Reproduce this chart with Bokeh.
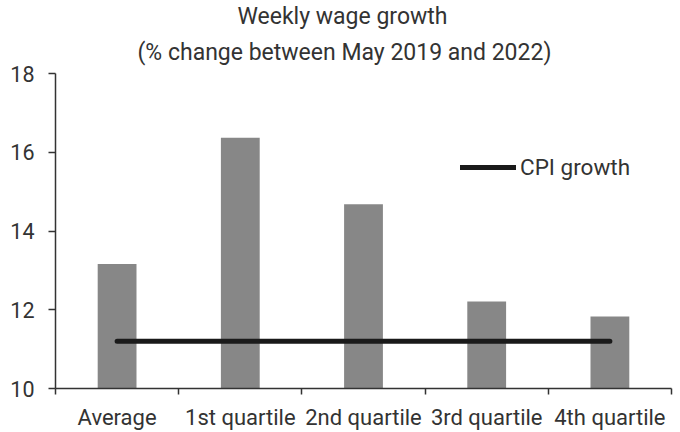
from bokeh.plotting import figure
from bokeh.models import FixedTicker, Title, Legend, LegendItem, ColumnDataSource, Range1d
from bokeh.embed import file_html
from bokeh.resources import INLINE

categories = ["Average", "1st quartile", "2nd quartile", "3rd quartile", "4th quartile"]
wage_growth = [13.16, 16.37, 14.68, 12.21, 11.83]
cpi_growth = [11.2, 11.2, 11.2, 11.2, 11.2]
y_ticks = [10, 12, 14, 16, 18]
title_line1 = "Weekly wage growth"
title_line2 = "(% change between May 2019 and 2022)"
cpi_label = "CPI growth"

FONT = "Roboto"
TEXT = "#333333"

x_pos = [i + 0.5 for i in range(len(categories))]
x_edges = [float(i) for i in range(len(categories) + 1)]

src = ColumnDataSource(dict(x=x_pos, wage=wage_growth, cpi=cpi_growth, cat=categories))

p = figure(width=680, height=432, title=None,
           x_range=Range1d(0, len(categories)), y_range=Range1d(10, 18),
           output_backend="svg", toolbar_location=None,
           min_border_left=55, min_border_right=9, min_border_top=73, min_border_bottom=0)
p.outline_line_color = None
p.grid.visible = False
p.background_fill_color = "white"
p.border_fill_color = "white"

p.vbar(x="x", top="wage", bottom=10, width=0.315, source=src,
       fill_color="#878787", line_color=None)
cpi_r = p.line(x="x", y="cpi", source=src, line_color="#1a1a1a", line_width=5, line_cap="round")

# x axis: labels at centres, ticks at category edges
xa = p.xaxis[0]
xa.ticker = FixedTicker(ticks=x_pos, minor_ticks=x_edges)
xa.major_label_overrides = {x: c for x, c in zip(x_pos, categories)}
xa.major_tick_out = 0
xa.major_tick_in = 0
xa.minor_tick_out = 6
xa.minor_tick_in = 0
xa.minor_tick_line_color = TEXT
xa.minor_tick_line_width = 1.5
xa.axis_line_color = TEXT
xa.axis_line_width = 1.5
xa.major_label_text_font = FONT
xa.major_label_text_font_size = "22px"
xa.major_label_text_color = TEXT
xa.major_label_standoff = 10

ya = p.yaxis[0]
ya.ticker = FixedTicker(ticks=y_ticks, minor_ticks=[])
ya.major_tick_out = 7
ya.major_tick_in = 0
ya.major_tick_line_color = TEXT
ya.major_tick_line_width = 1.5
ya.axis_line_color = TEXT
ya.axis_line_width = 1.5
ya.major_label_text_font = FONT
ya.major_label_text_font_size = "21.5px"
ya.major_label_text_color = TEXT
ya.major_label_standoff = 14

t2 = Title(text=title_line2, align="left", offset=82, standoff=15,
           text_font=FONT, text_font_size="23px", text_font_style="normal", text_color=TEXT)
p.add_layout(t2, "above")
t1 = Title(text=title_line1, align="left", offset=182, standoff=0, text_line_height=0.75,
           text_font=FONT, text_font_size="23px", text_font_style="normal", text_color=TEXT)
p.add_layout(t1, "above")

legend = Legend(items=[LegendItem(label=cpi_label, renderers=[cpi_r])],
                location=(405, 208), border_line_color=None, background_fill_alpha=0,
                padding=0, margin=0, glyph_width=56, glyph_height=20, label_standoff=4,
                label_text_font=FONT, label_text_font_size="22.5px", label_text_color=TEXT)
p.add_layout(legend, "center")

open("out.html", "w").write(file_html(p, INLINE))
